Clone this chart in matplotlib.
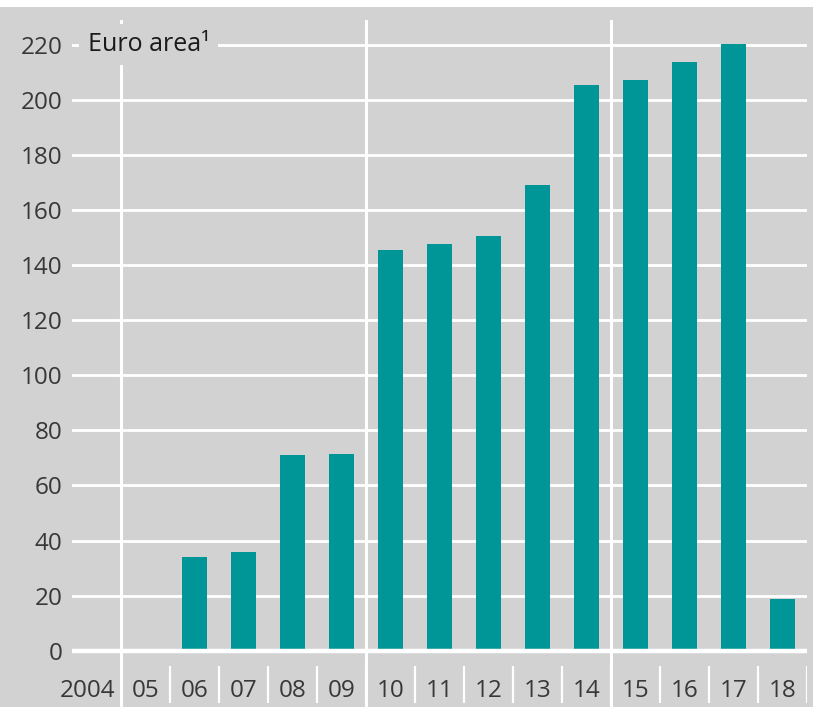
import matplotlib.pyplot as plt
from matplotlib.patches import Rectangle

# data
years = list(range(2004, 2019))
year_labels = ["2004", "05", "06", "07", "08", "09", "10", "11", "12", "13", "14", "15", "16", "17", "18"]
values = [0, 0, 34.1, 35.9, 71.1, 71.5, 145.6, 147.7, 150.6, 169.1, 205.4, 207.3, 213.8, 220.3, 18.9]
y_ticks = list(range(0, 221, 20))
separators = [2004.5, 2009.5, 2014.5]

plt.rcParams['font.family'] = ['Open Sans', 'DejaVu Sans']

cinza = '#d2d2d2'
teal = '#009597'
cor_texto = '#383838'

fig = plt.figure(figsize=(8.13, 7.07), dpi=100, facecolor=cinza)
ax = fig.add_axes([72 / 813, 0, 735 / 813, 687 / 707])
ax.set_facecolor(cinza)
ax.set_xlim(2003.5, 2018.5)
ax.set_ylim(-20.4, 228.9)
for sp in ax.spines.values():
    sp.set_visible(False)

# grelha
for v in y_ticks:
    if v == 0:
        ax.axhline(v, color='white', lw=3.2, zorder=3)
    else:
        ax.axhline(v, color='white', lw=2.0, zorder=1)
for s in separators:
    ax.axvline(s, color='white', lw=2.2, zorder=1)
ax.vlines([y + 0.5 for y in years[1:]], -19.0, -5.5, color='white', lw=1.6, zorder=1)

ax.bar(years, values, width=0.5, color=teal, zorder=2)

ax.set_xticks([])
ax.set_yticks(y_ticks)
ax.tick_params(axis='y', length=0, pad=7, labelsize=17.5, labelcolor=cor_texto)

for i, (y, lab) in enumerate(zip(years, year_labels)):
    if i == 0:
        # primeiro rótulo encostado ao separador
        ax.text(y + 0.38, -14.5, lab, ha='right', va='center', fontsize=17.5, color=cor_texto)
    else:
        ax.text(y, -14.5, lab, ha='center', va='center', fontsize=17.5, color=cor_texto)

ax.text(2003.82, 220, 'Euro area\u00b9', ha='left', va='center', fontsize=18, color='#1a1a1a',
        zorder=4, bbox=dict(facecolor=cinza, edgecolor='none', pad=6))

fig.add_artist(Rectangle((0, 1 - 7 / 707), 1, 7 / 707, transform=fig.transFigure,
                         facecolor='white', edgecolor='none'))

fig.savefig('out.png', dpi=100, facecolor=cinza)
